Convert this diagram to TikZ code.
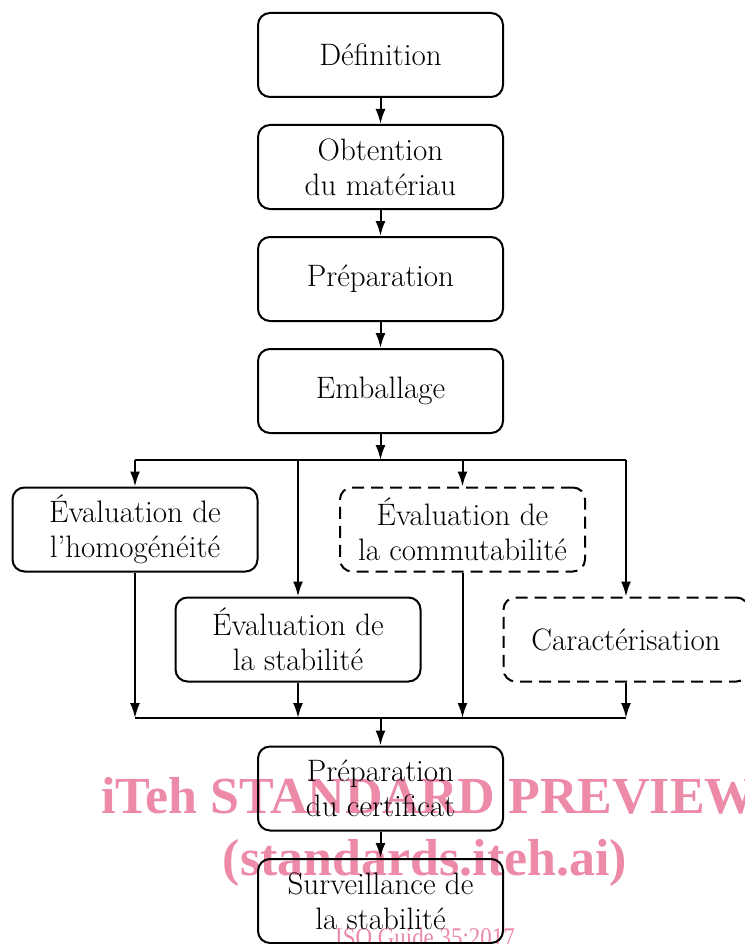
\documentclass[tikz,border=0pt]{standalone}
\usepackage{fontspec}
\newfontfamily\wmfont{Liberation Serif}
\usepackage{tikz}
\usetikzlibrary{
    calc,
    arrows.meta,
    positioning
}
\definecolor{wmpink}{RGB}{236,138,168}
\tikzset{
    % rounded box of the flow chart
    stepbox/.style={
        draw,
        line width=2pt,
        rounded corners=12pt,
        minimum width=245pt,
        minimum height=84pt,
        inner sep=0pt,
        align=center,
        font=\fontsize{31}{35}\selectfont
    },
    % optional step, dashed border
    optbox/.style={
        stepbox,
        dash pattern=on 12pt off 7pt
    },
    % connector with a filled head
    flow/.style={
        line width=2pt,
        -{Latex[length=15pt,width=10pt]}
    },
    joinline/.style={
        line width=2pt
    },
    watermark/.style={
        text=wmpink,
        font=\wmfont\bfseries\fontsize{52}{56}\selectfont,
        anchor=base
    }
}

\begin{document}
\begin{tikzpicture}[x=1pt, y=-1pt]
            \useasboundingbox (0,0) rectangle (744,944);
            % watermark behind everything
            \node[watermark] (wm1) at (429,813) {iTeh STANDARD PREVIEW};
            \node[watermark] (wm2) at (425,875) {(standards.iteh.ai)};
            \node[text=wmpink, anchor=base, xscale=0.85,
                  font=\wmfont\fontsize{27}{30}\selectfont] (wm3) at (425,946) {ISO Guide 35:2017};
            % main chain
            \node[stepbox] (def)  at (380.5,55)  {Définition};
            \node[stepbox] (obt)  at (380.5,167) {Obtention\\du matériau};
            \node[stepbox] (prep) at (380.5,279) {Préparation};
            \node[stepbox] (emb)  at (380.5,391) {Emballage};
            % evaluations
            \node[stepbox] (homo)  at (135,529.5) {Évaluation de\\l’homogénéité};
            \node[optbox]  (comm)  at (462.5,529.5) {Évaluation de\\la commutabilité};
            \node[stepbox] (stab)  at (298,639.5) {Évaluation de\\la stabilité};
            \node[optbox]  (carac) at (626,639.5) {Caractérisation};
            % end of chain
            \node[stepbox] (cert) at (380.5,788.5) {Préparation\\du certificat};
            \node[stepbox] (surv) at (380.5,901) {Surveillance de\\la stabilité};
            \coordinate (split) at (380.5,460);
            \coordinate (merge) at (380.5,718);
            \draw[flow] (def) -- (obt);
            \draw[flow] (obt) -- (prep);
            \draw[flow] (prep) -- (emb);
            \draw[flow] (emb) -- (split);
            \draw[joinline] (homo.north |- split) -- (carac.north |- split);
            \foreach \n in {homo, stab, comm, carac} {
                \draw[flow] (\n.north |- split) -- (\n.north);
                \draw[flow] (\n.south) -- (\n.south |- merge);
            }
            \draw[joinline] (homo.south |- merge) -- (carac.south |- merge);
            \draw[flow] (merge) -- (cert);
            \draw[flow] (cert) -- (surv);
        \end{tikzpicture}
\end{document}
